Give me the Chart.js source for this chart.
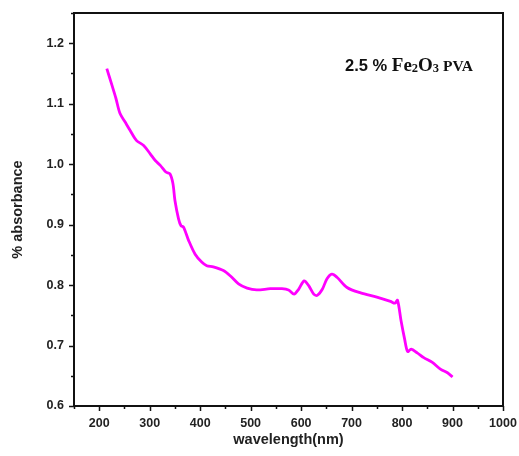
<!DOCTYPE html>
<html>
<head>
<meta charset="utf-8">
<script src="https://cdn.jsdelivr.net/npm/chart.js@4.4.0/dist/chart.umd.min.js"></script>
<style>
  html, body { margin: 0; padding: 0; background: #fff; }
  #wrap { width: 519px; height: 456px; }
</style>
</head>
<body>
<div id="wrap"><canvas id="uv" width="519" height="456"></canvas></div>
<script>
// wavelength (nm) and absorbance
const wavelength = [215, 225, 233, 241, 251, 261, 274, 288, 301, 311, 321, 332, 340, 346, 350,
    357, 362, 367, 377, 390, 403, 413, 426, 446, 460, 476, 493, 512, 539, 562,
    575, 586, 595, 606, 615, 625, 632, 642, 651, 661, 671, 691, 718, 750, 777,
    786, 791, 798, 805, 811, 818, 830, 843, 860, 876, 890, 900];
const absorbance = [1.158, 1.131, 1.109, 1.084, 1.070, 1.056, 1.039, 1.031, 1.017, 1.006, 0.998, 0.987, 0.984, 0.968, 0.940,
    0.910, 0.898, 0.896, 0.874, 0.851, 0.838, 0.832, 0.830, 0.824, 0.815, 0.802, 0.795, 0.792, 0.794, 0.794,
    0.792, 0.785, 0.793, 0.807, 0.799, 0.785, 0.783, 0.793, 0.810, 0.818, 0.813, 0.796, 0.787, 0.780, 0.773,
    0.770, 0.775, 0.741, 0.711, 0.690, 0.694, 0.688, 0.680, 0.672, 0.661, 0.655, 0.648];
const xTickLabels = [200, 300, 400, 500, 600, 700, 800, 900, 1000];
const yTickLabels = [0.6, 0.7, 0.8, 0.9, 1.0, 1.1, 1.2];

const textColor = '#222';
const tickFont = { family: 'Liberation Sans, Arial, sans-serif', size: 12.5, weight: 'bold' };
const titleFont = { family: 'Liberation Sans, Arial, sans-serif', size: 14.5, weight: 'bold' };

const isLabelled = (list, v) => list.some(t => Math.abs(t - v) < 1e-6);

// frame + outward tick marks (major long, minor short)
const framePlugin = {
    id: 'frame',
    afterDraw(chart) {
        const { ctx, chartArea: a, scales } = chart;
        ctx.save();
        ctx.strokeStyle = '#111';
        ctx.lineWidth = 2;
        ctx.strokeRect(a.left, a.top, a.right - a.left, a.bottom - a.top);
        ctx.lineWidth = 1.5;
        ctx.beginPath();
        scales.x.ticks.forEach(t => {
            const px = Math.round(scales.x.getPixelForValue(t.value)) + 0.5;
            const len = isLabelled(xTickLabels, t.value) ? 5 : 3;
            ctx.moveTo(px, a.bottom);
            ctx.lineTo(px, a.bottom + len);
        });
        scales.y.ticks.forEach(t => {
            const py = Math.round(scales.y.getPixelForValue(t.value)) + 0.5;
            const len = isLabelled(yTickLabels, t.value) ? 5 : 3;
            ctx.moveTo(a.left, py);
            ctx.lineTo(a.left - len, py);
        });
        ctx.stroke();

        // sample label
        let x = 345;
        const y = 71;
        ctx.fillStyle = '#111';
        ctx.textBaseline = 'alphabetic';
        const part = (txt, font, dy) => {
            ctx.font = font;
            ctx.fillText(txt, x, y + (dy || 0));
            x += ctx.measureText(txt).width;
        };
        part('2.5 % ', 'bold 16.5px Liberation Sans, Arial, sans-serif');
        part('Fe', 'bold 19px Liberation Serif, Times New Roman, serif');
        part('2', 'bold 12.5px Liberation Serif, Times New Roman, serif', 1);
        part('O', 'bold 19px Liberation Serif, Times New Roman, serif');
        part('3', 'bold 12.5px Liberation Serif, Times New Roman, serif', 1);
        part(' PVA', 'bold 15.5px Liberation Serif, Times New Roman, serif');
        ctx.restore();
    }
};

new Chart(document.getElementById('uv'), {
    type: 'scatter',
    data: {
        datasets: [{
            label: '2.5 % Fe2O3 PVA',
            data: wavelength.map((w, i) => ({ x: w, y: absorbance[i] })),
            showLine: true,
            borderColor: '#ff00ff',
            borderWidth: 2.8,
            pointRadius: 0,
            tension: 0.3,
            fill: false
        }]
    },
    options: {
        responsive: false,
        animation: false,
        devicePixelRatio: 1,
        layout: { padding: { top: 13, right: 16, left: 0, bottom: 0 } },
        plugins: { legend: { display: false }, tooltip: { enabled: false } },
        scales: {
            x: {
                type: 'linear',
                min: 150,
                max: 1000,
                afterFit: s => { s.height = 50; s.paddingLeft = 0; s.paddingRight = 0; },
                grid: { display: false, drawTicks: false },
                border: { display: false },
                ticks: {
                    stepSize: 50,
                    autoSkip: false,
                    maxRotation: 0,
                    padding: 10,
                    color: textColor,
                    font: tickFont,
                    callback: v => isLabelled(xTickLabels, v) ? String(v) : ''
                },
                title: {
                    display: true,
                    text: 'wavelength(nm)',
                    color: textColor,
                    font: titleFont,
                    padding: { top: 0, bottom: 7 }
                }
            },
            y: {
                type: 'linear',
                min: 0.6,
                max: 1.25,
                afterFit: s => { s.width = 74; s.paddingTop = 0; s.paddingBottom = 0; },
                grid: { display: false, drawTicks: false },
                border: { display: false },
                ticks: {
                    stepSize: 0.05,
                    autoSkip: false,
                    padding: 10,
                    color: textColor,
                    font: tickFont,
                    callback: v => isLabelled(yTickLabels, v) ? v.toFixed(1) : ''
                },
                title: {
                    display: true,
                    text: '% absorbance',
                    color: textColor,
                    font: titleFont,
                    padding: { top: 9, bottom: 0 }
                }
            }
        }
    },
    plugins: [framePlugin]
});
</script>
</body>
</html>
